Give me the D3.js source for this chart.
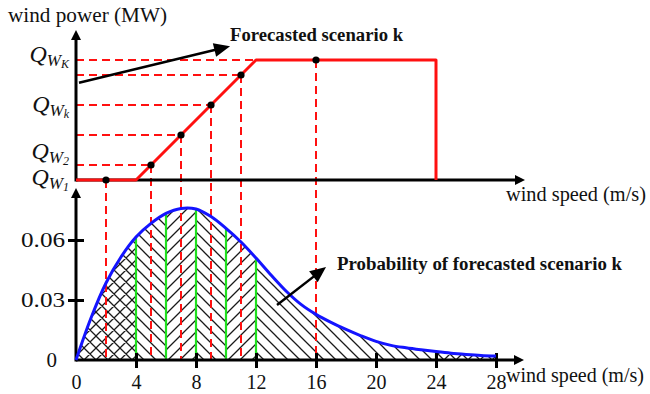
<!DOCTYPE html>
<html><head><meta charset="utf-8">
<script src="https://cdn.jsdelivr.net/npm/d3@7"></script>
<style>
html,body{margin:0;padding:0;background:#fff;}
svg{display:block;}
text{font-family:"Liberation Serif","DejaVu Serif",serif;fill:#111;}
</style></head><body>
<svg id="chart" width="650" height="394"></svg>
<script>
// Turbine power curve: normalised output against wind speed (m/s)
const powerCurveSpeed = [0, 4, 12, 24, 24];
const powerCurveOutput = [0, 0, 1, 1, 0];

// Forecasted wind-speed scenarios and the output each one gives
const scenarioSpeed = [2, 5, 7, 9, 11, 16];
const scenarioOutput = [0, 0.125, 0.375, 0.625, 0.875, 1];

// Output levels named on the power axis
const powerTickValue = [0, 0.125, 0.625, 1];
const powerTickSub = ["1", "2", "k", "K"];

// Wind-speed probability density
const pdfSpeed = [0, 1, 2, 3, 4, 5, 6, 7, 8, 9, 10, 11, 12, 13, 14,
                  15, 16, 17, 18, 19, 20, 21, 22, 23, 24, 25, 26, 27, 28];
const pdfValue = [0, 0.021, 0.0385, 0.0515, 0.0615, 0.0683, 0.0733, 0.0758, 0.0755,
                  0.0717, 0.0658, 0.059, 0.051, 0.0425, 0.0345, 0.0278, 0.0228,
                  0.0188, 0.0153, 0.0121, 0.0093, 0.0073, 0.0061, 0.0051, 0.0042,
                  0.0034, 0.0028, 0.0023, 0.002];

// Scenario bins: edges and hatching of each band
const binEdges = [4, 6, 8, 10, 12, 24];
const bandStart = [0, 4, 6, 8, 10, 12, 24];
const bandEnd = [4, 6, 8, 10, 12, 24, 28];
const bandHatch = ["cross", "back", "fwd", "back", "fwd", "back", "cross"];

// Axis ticks
const speedTicks = [0, 4, 8, 12, 16, 20, 24, 28];
const probTicks = [0, 0.03, 0.06];

const svg = d3.select("#chart");
const RED = "#ff1010", BLUE = "#1414ff", GREEN = "#1ee01e", BLACK = "#000";

const x = d3.scaleLinear().domain([0, 28]).range([76, 496]);
const yP = d3.scaleLinear().domain([0, 1]).range([180, 60]);
const yD = d3.scaleLinear().domain([0, 0.06]).range([360, 240]);

const pdf = pdfSpeed.map((s, i) => [s, pdfValue[i]]);
const pdfAt = s => pdfValue[pdfSpeed.indexOf(s)];
const pdfCurve = d3.curveCatmullRom.alpha(0.5);

// ---- hatch patterns ----
const defs = svg.append("defs");
const S = 12;
const hatchPaths = {
  back: `M-2,-2 L${S + 2},${S + 2} M-2,${S - 2} L2,${S + 2} M${S - 2},-2 L${S + 2},2`,
  fwd: `M-2,${S + 2} L${S + 2},-2 M-2,2 L2,-2 M${S - 2},${S + 2} L${S + 2},${S - 2}`
};
hatchPaths.cross = hatchPaths.back + " " + hatchPaths.fwd;
Object.entries(hatchPaths).forEach(([k, d]) => {
  defs.append("pattern").attr("id", "h-" + k)
    .attr("patternUnits", "userSpaceOnUse").attr("width", S).attr("height", S)
    .append("path").attr("d", d).attr("stroke", "#1a1a1a").attr("stroke-width", 1.3).attr("fill", "none");
});

const area = d3.area().x(d => x(d[0])).y0(yD(0)).y1(d => yD(d[1])).curve(pdfCurve);
defs.append("clipPath").attr("id", "under-pdf").append("path").attr("d", area(pdf));

// ---- hatched bands under the density ----
svg.append("g").attr("clip-path", "url(#under-pdf)")
  .selectAll("rect").data(bandStart).join("rect")
  .attr("x", (d) => x(d)).attr("width", (d, i) => x(bandEnd[i]) - x(d))
  .attr("y", yD(0.1)).attr("height", yD(0) - yD(0.1))
  .attr("fill", (d, i) => `url(#h-${bandHatch[i]})`);

// ---- bin edges ----
svg.append("g").selectAll("line").data(binEdges).join("line")
  .attr("x1", d => x(d)).attr("x2", d => x(d))
  .attr("y1", yD(0)).attr("y2", d => yD(pdfAt(d)))
  .attr("stroke", GREEN).attr("stroke-width", 2.2);

// ---- dashed guides from each scenario ----
const rampSpeed = d3.scaleLinear().domain([0, 1]).range([powerCurveSpeed[1], powerCurveSpeed[2]]);
const guides = svg.append("g").attr("stroke", RED).attr("stroke-width", 2).attr("stroke-dasharray", "8,5").attr("fill", "none");
guides.selectAll("line.v").data(scenarioSpeed).join("line").attr("class", "v")
  .attr("x1", d => x(d)).attr("x2", d => x(d))
  .attr("y1", (d, i) => yP(scenarioOutput[i])).attr("y2", yD(0));
guides.selectAll("line.h").data(scenarioOutput.filter(p => p > 0)).join("line").attr("class", "h")
  .attr("x1", x(0)).attr("x2", d => x(rampSpeed(d)))
  .attr("y1", d => yP(d)).attr("y2", d => yP(d));

// ---- axes ----
function arrowHead(g, x1, y1, x2, y2, len, half) {
  const a = Math.atan2(y2 - y1, x2 - x1);
  const bx = x2 - len * Math.cos(a), by = y2 - len * Math.sin(a);
  const nx = -Math.sin(a) * half, ny = Math.cos(a) * half;
  g.append("path").attr("d", `M${x2},${y2} L${bx + nx},${by + ny} L${bx - nx},${by - ny} Z`).attr("fill", BLACK);
  return [x2 - len * 0.6 * Math.cos(a), y2 - len * 0.6 * Math.sin(a)];
}
function arrow(g, x1, y1, x2, y2, w, len, half) {
  const [ex, ey] = arrowHead(g, x1, y1, x2, y2, len, half);
  g.append("line").attr("x1", x1).attr("y1", y1).attr("x2", ex).attr("y2", ey)
    .attr("stroke", BLACK).attr("stroke-width", w);
}
const ax = svg.append("g");
// upper panel
arrow(ax, x(0), yP(0), 525, yP(0), 3, 10, 5);
arrow(ax, x(0), yP(0) + 1.5, x(0), 30, 3, 10, 5);
// lower panel
arrow(ax, x(0), yD(0), 524, yD(0), 3, 10, 5);
arrow(ax, x(0), yD(0) + 1.5, x(0), 188, 3, 10, 5);

const xAxis = svg.append("g").attr("transform", `translate(0,${yD(0)})`)
  .call(d3.axisBottom(x).tickValues(speedTicks).tickSizeInner(8).tickSizeOuter(0).tickPadding(7));
xAxis.select(".domain").remove();
xAxis.selectAll(".tick line").attr("y1", -7).attr("y2", 8).attr("stroke", BLACK).attr("stroke-width", 3);
xAxis.selectAll(".tick").filter(d => d === 0).select("line").remove();
xAxis.selectAll(".tick text").attr("font-size", 20).attr("font-family", "Liberation Serif").attr("fill", "#111");

const yAxis = svg.append("g").attr("transform", `translate(${x(0)},0)`)
  .call(d3.axisLeft(yD).tickValues(probTicks).tickSizeInner(8).tickSizeOuter(0).tickPadding(3)
    .tickFormat(d => d === 0 ? "0" : d3.format(".2f")(d)));
yAxis.select(".domain").remove();
yAxis.selectAll(".tick line").attr("x1", -8).attr("x2", 8).attr("stroke", BLACK).attr("stroke-width", 3);
yAxis.selectAll(".tick").filter(d => d === 0).select("line").remove();
yAxis.selectAll(".tick text").attr("font-size", 21).attr("font-family", "Liberation Serif").attr("fill", "#111")
  .attr("textLength", d => d === 0 ? null : 44).attr("lengthAdjust", "spacingAndGlyphs");
yAxis.selectAll(".tick").filter(d => d === 0).select("text").attr("x", -19);

// power axis labels Q_{W_i}
const qShift = [5, -6, 7, 2];
const q = svg.append("g").selectAll("text").data(powerTickValue).join("text")
  .attr("x", 69).attr("y", (d, i) => yP(d) + qShift[i])
  .attr("text-anchor", "end").attr("font-style", "italic");
q.append("tspan").attr("font-size", 24).text("Q");
q.append("tspan").attr("font-size", 17).attr("dy", 4).text("W");
q.append("tspan").attr("font-size", 12).attr("dy", 2).text((d, i) => powerTickSub[i]);

// ---- power curve ----
const pLine = d3.line().x(d => x(d[0])).y(d => yP(d[1]));
svg.append("path").attr("d", pLine(powerCurveSpeed.map((s, i) => [s, powerCurveOutput[i]])))
  .attr("fill", "none").attr("stroke", RED).attr("stroke-width", 3).attr("stroke-linejoin", "round");

// ---- density curve ----
svg.append("path").attr("d", d3.line().x(d => x(d[0])).y(d => yD(d[1])).curve(pdfCurve)(pdf))
  .attr("fill", "none").attr("stroke", BLUE).attr("stroke-width", 3);

// ---- scenario points ----
svg.append("g").selectAll("circle").data(scenarioSpeed).join("circle")
  .attr("cx", d => x(d)).attr("cy", (d, i) => yP(scenarioOutput[i])).attr("r", 3.6).attr("fill", BLACK);

// ---- annotations ----
const ann = svg.append("g");
arrow(ann, x(0.2), yP(0.81), x(10.27), yP(1.115), 2.5, 16, 7);
arrow(ann, x(13.4), yD(0.0275), x(16.67), yD(0.0465), 2.5, 16, 7);
ann.append("text").attr("x", x(10.27)).attr("y", 41).attr("font-size", 18.5).attr("font-weight", "bold")
  .attr("textLength", 173).attr("lengthAdjust", "spacingAndGlyphs")
  .text("Forecasted scenario k");
ann.append("text").attr("x", x(17.4)).attr("y", 270).attr("font-size", 18.5).attr("font-weight", "bold")
  .attr("textLength", 285).attr("lengthAdjust", "spacingAndGlyphs")
  .text("Probability of forecasted scenario k");

// axis titles
const titles = svg.append("g").attr("font-size", 21);
titles.append("text").attr("x", 8).attr("y", 22).attr("textLength", 159).attr("lengthAdjust", "spacingAndGlyphs")
  .text("wind power (MW)");
titles.append("text").attr("x", 506).attr("y", 201).attr("textLength", 140).attr("lengthAdjust", "spacingAndGlyphs")
  .text("wind speed (m/s)");
titles.append("text").attr("x", 506).attr("y", 382).attr("textLength", 138).attr("lengthAdjust", "spacingAndGlyphs")
  .text("wind speed (m/s)");
</script>
</body></html>
